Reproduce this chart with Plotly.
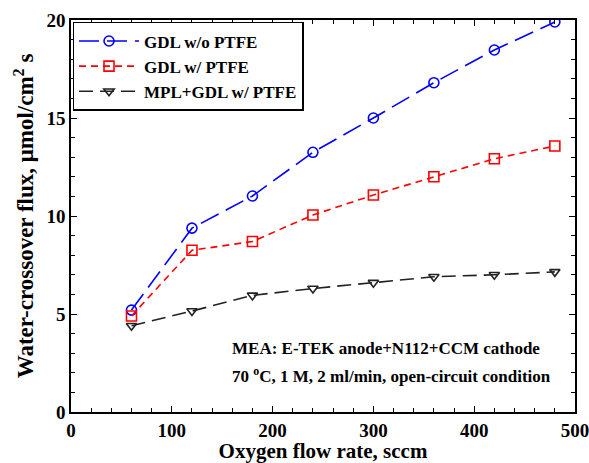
import plotly.graph_objects as go

flow = [60, 120, 180, 240, 300, 360, 420, 480]
gdl_no_ptfe = [5.2, 9.38, 11.02, 13.25, 15.0, 16.8, 18.47, 19.9]
gdl_ptfe = [4.9, 8.25, 8.7, 10.05, 11.07, 12.0, 12.92, 13.57]
mpl_gdl_ptfe = [4.4, 5.15, 5.95, 6.3, 6.6, 6.9, 7.0, 7.15]

FONT = "Liberation Serif"

fig = go.Figure()
fig.add_trace(go.Scatter(
    x=flow, y=gdl_no_ptfe, name="GDL w/o PTFE", mode="lines+markers",
    line=dict(color="#0000ff", width=1.6, dash="20px,8px"),
    marker=dict(symbol="circle-open", size=10, color="#0000ff", line=dict(width=1.6))))
fig.add_trace(go.Scatter(
    x=flow, y=gdl_ptfe, name="GDL w/ PTFE", mode="lines+markers",
    line=dict(color="#ff0000", width=1.6, dash="7px,5px"),
    marker=dict(symbol="square-open", size=10, color="#ff0000", line=dict(width=1.6))))
fig.add_trace(go.Scatter(
    x=flow, y=mpl_gdl_ptfe, name="MPL+GDL w/ PTFE", mode="lines+markers",
    line=dict(color="#222222", width=1.6, dash="14px,7px"),
    marker=dict(symbol="triangle-down-open", size=9, color="#222222", line=dict(width=1.6))))

fig.add_annotation(
    x=0.315, y=0.163, xref="paper", yref="paper", xanchor="left", yanchor="middle",
    text="MEA: E-TEK anode+N112+CCM cathode", showarrow=False,
    font=dict(family=FONT, size=17, color="black", weight="bold"))
fig.add_annotation(
    x=0.315, y=0.094, xref="paper", yref="paper", xanchor="left", yanchor="middle",
    text="70 <sup>o</sup>C, 1 M, 2 ml/min, open-circuit condition", showarrow=False,
    font=dict(family=FONT, size=17, color="black", weight="bold"))

axis_common = dict(
    showgrid=False, zeroline=False, showline=True, linecolor="black", linewidth=1.5,
    mirror="allticks", ticks="inside", ticklen=6, tickwidth=1.2, tickcolor="black",
    tickfont=dict(family=FONT, size=19, color="black", weight="bold"),
    automargin=False, ticklabeloverflow="allow",
)

fig.update_xaxes(
    range=[0, 500], tickvals=[0, 100, 200, 300, 400, 500],
    minor=dict(dtick=20, ticks="inside", ticklen=4, tickcolor="black", tickwidth=1.2),
    title=dict(text="Oxygen flow rate, sccm", standoff=4,
               font=dict(family=FONT, size=21, color="black", weight="bold")),
    **axis_common)
fig.update_yaxes(
    range=[0, 20], tickvals=[0, 5, 10, 15, 20],
    minor=dict(dtick=1, ticks="inside", ticklen=4, tickcolor="black", tickwidth=1.2),
    title=dict(text="Water-crossover flux, \u03bcmol/cm<sup>2</sup> s", standoff=6,
               font=dict(family=FONT, size=23, color="black", weight="bold")),
    **axis_common)

fig.update_layout(
    width=589, height=463,
    margin=dict(l=71, r=14, t=20, b=51),
    plot_bgcolor="white", paper_bgcolor="white",
    legend=dict(x=0.003, y=0.995, xanchor="left", yanchor="top",
                bordercolor="black", borderwidth=1.5, bgcolor="white",
                font=dict(family=FONT, size=17, color="black", weight="bold"),
                tracegroupgap=6, itemwidth=60),
    showlegend=True,
)

fig.write_html("out.html")
